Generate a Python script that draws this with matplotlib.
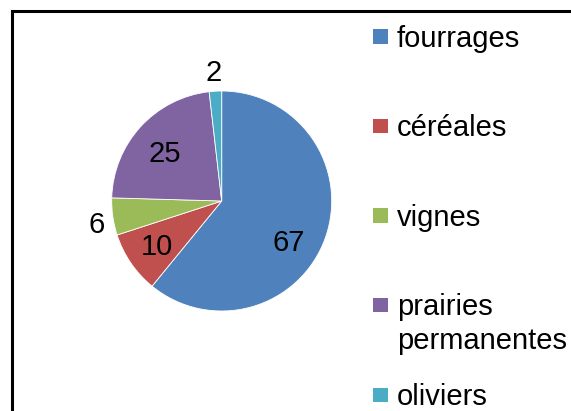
import matplotlib
matplotlib.use("Agg")
import matplotlib.pyplot as plt
from matplotlib.patches import Rectangle
import numpy as np

plt.rcParams['font.family'] = ['Liberation Sans', 'DejaVu Sans']

categories = ["fourrages", "céréales", "vignes", "prairies\npermanentes", "oliviers"]
values = [67, 10, 6, 25, 2]
colors = ["#4F81BD", "#C0504D", "#9BBB59", "#8064A2", "#4BACC6"]

# label placement style (radius fraction, angle shift in degrees)
label_r = [0.707, 0.706, 1.15, 0.687, 1.19]
label_shift = [-10.5, -0.8, 1.4, 1.1, 0.1]

W, H, DPI = 571, 411, 100
fig = plt.figure(figsize=(W / DPI, H / DPI), dpi=DPI)

cx, cy, R = 221.7, 201.0, 110.0
ax = fig.add_axes([(cx - R) / W, (H - cy - R) / H, 2 * R / W, 2 * R / H])
wedges, _ = ax.pie(values, colors=colors, startangle=90, counterclock=False,
                   radius=1.0, wedgeprops=dict(edgecolor="white", linewidth=0.6))
ax.set_xlim(-1, 1)
ax.set_ylim(-1, 1)
ax.set_aspect("equal")
ax.axis("off")

fs = 21
for w, v, r, s in zip(wedges, values, label_r, label_shift):
    ang = np.deg2rad((w.theta1 + w.theta2) / 2 + s)
    x, y = r * np.cos(ang), r * np.sin(ang)
    ax.annotate(str(v), xy=(x, y), xytext=(0, -11 * 72 / DPI), textcoords="offset points",
                ha="center", va="baseline", fontsize=fs, color="black",
                annotation_clip=False)

# legend (manual, Excel-like)
sq = 14.4
sq_x = 380.5
txt_x = 396.7
leg_y0 = 36.7
leg_dy = 89.5
line_dy = 34.0
for i, (lab, col) in enumerate(zip(categories, colors)):
    yc = leg_y0 + i * leg_dy
    fig.add_artist(Rectangle(((sq_x - sq / 2) / W, (H - yc - sq / 2) / H), sq / W, sq / H,
                             transform=fig.transFigure, facecolor=col, edgecolor="none"))
    for j, line in enumerate(lab.split("\n")):
        yb = yc + 10.0 + j * line_dy
        fig.text(txt_x / W, (H - yb) / H, line, fontsize=fs, ha="left", va="baseline",
                 color="black")

# outer frame (cropped on right and bottom)
bx, by = 11.7, 10.8
fig.add_artist(Rectangle((bx / W, -0.1), 1.2, (H - by) / H + 0.1, transform=fig.transFigure,
                         facecolor="none", edgecolor="black", linewidth=2.2))

fig.savefig("out.png", dpi=DPI)
